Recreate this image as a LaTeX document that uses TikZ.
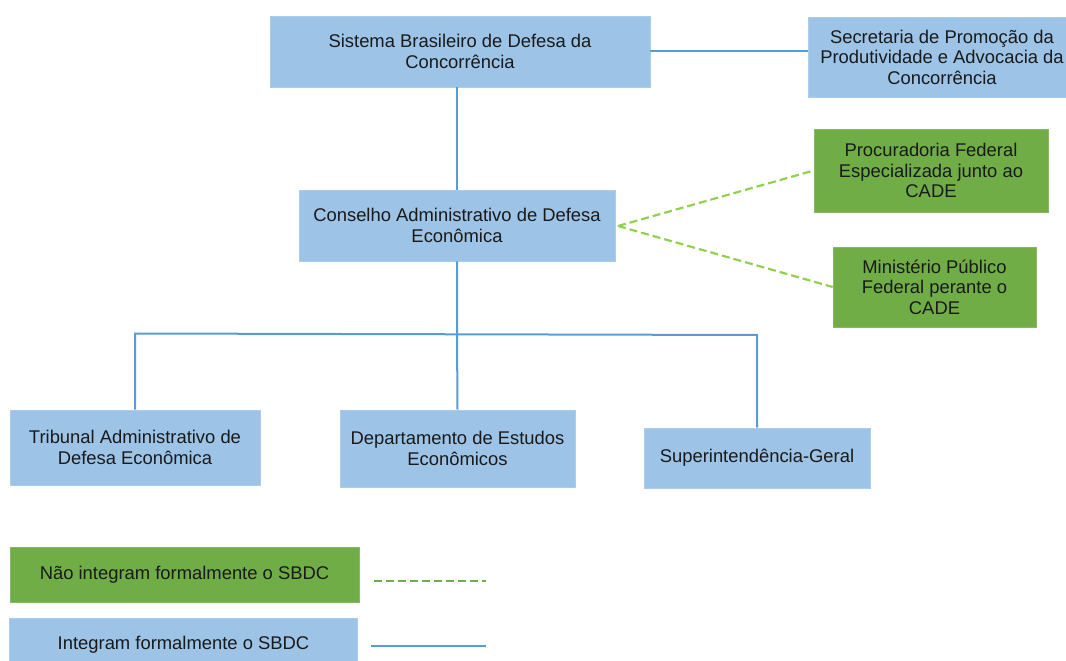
\documentclass[tikz,border=0pt]{standalone}
\usepackage{fontspec}
\setmainfont{Liberation Sans}
\definecolor{boxblue}{HTML}{9DC3E6}
\definecolor{boxgreen}{HTML}{70AD47}
\definecolor{lineblue}{HTML}{5B9BD5}
\definecolor{dashgreen}{HTML}{92D050}
\definecolor{txt}{HTML}{1A1A1A}
\begin{document}
\begin{tikzpicture}[x=1pt,y=-1pt,
  every node/.style={inner sep=0pt, align=center, text=txt, font=\fontsize{18.4pt}{20.5pt}\selectfont},
  bluebox/.style={fill=boxblue, draw=boxblue!85!white, line width=0.6pt},
  greenbox/.style={fill=boxgreen, draw=boxgreen!85!white, line width=0.6pt},
  solidlink/.style={draw=lineblue, line width=2pt},
  dashlink/.style={draw=dashgreen, line width=2.2pt, dash pattern=on 8pt off 4pt}]
\useasboundingbox (0,0) rectangle (1066,661);
% boxes
\node[bluebox, minimum width=380pt, minimum height=71pt] (sbdc) at (460,51.5) {Sistema Brasileiro de Defesa da\\Concorrência};
\node[bluebox, minimum width=268pt, minimum height=80pt] (sec) at (942,57) {Secretaria de Promoção da\\Produtividade e Advocacia da\\Concorrência};
\node[bluebox, minimum width=316pt, minimum height=71pt] (cons) at (457,225.5) {Conselho Administrativo de Defesa\\Econômica};
\node[greenbox, minimum width=234pt, minimum height=83pt] (proc) at (931,170.5) {Procuradoria Federal\\Especializada junto ao\\CADE};
\node[greenbox, minimum width=203pt, minimum height=80pt] (min) at (934.5,287) {Ministério Público\\Federal perante o\\CADE};
\node[bluebox, minimum width=250pt, minimum height=75pt] (trib) at (135,447.5) {Tribunal Administrativo de\\Defesa Econômica};
\node[bluebox, minimum width=235pt, minimum height=77pt] (dep) at (457.5,448.5) {Departamento de Estudos\\Econômicos};
\node[bluebox, minimum width=226pt, minimum height=60pt] (sup) at (757,458) {Superintendência-Geral};
% legend
\node[greenbox, minimum width=349pt, minimum height=55pt] (lgreen) at (184.5,574.5) {Não integram formalmente o SBDC};
\node[bluebox, minimum width=348pt, minimum height=52pt, anchor=north] (lblue) at (183.5,618) {\raisebox{-10pt}{Integram formalmente o SBDC}};
\coordinate (ld1) at (374,581);
\coordinate (ld2) at (486,581);
\coordinate (ls1) at (371,646);
\coordinate (ls2) at (486,646);
\coordinate (hl) at (135,333.5);
\coordinate (hr) at (757,335);
\coordinate (hm) at (457,334);
\coordinate (dstart) at (618,226);
% connectors
\draw[solidlink] (sbdc.east) -- (sec.west |- sbdc.east);
\draw[solidlink] (cons.north) -- (cons.north |- sbdc.south);
\draw[solidlink] (cons.south) -- (hm) -- (dep.north);
\draw[solidlink] (trib.north) -- (hl) -- (hr) -- (sup.north);
\draw[dashlink] (dstart) -- (proc.west);
\draw[dashlink] (dstart) -- (min.west);
\draw[dashlink, draw=boxgreen] (ld1) -- (ld2);
\draw[solidlink] (ls1) -- (ls2);
\end{tikzpicture}
\end{document}
